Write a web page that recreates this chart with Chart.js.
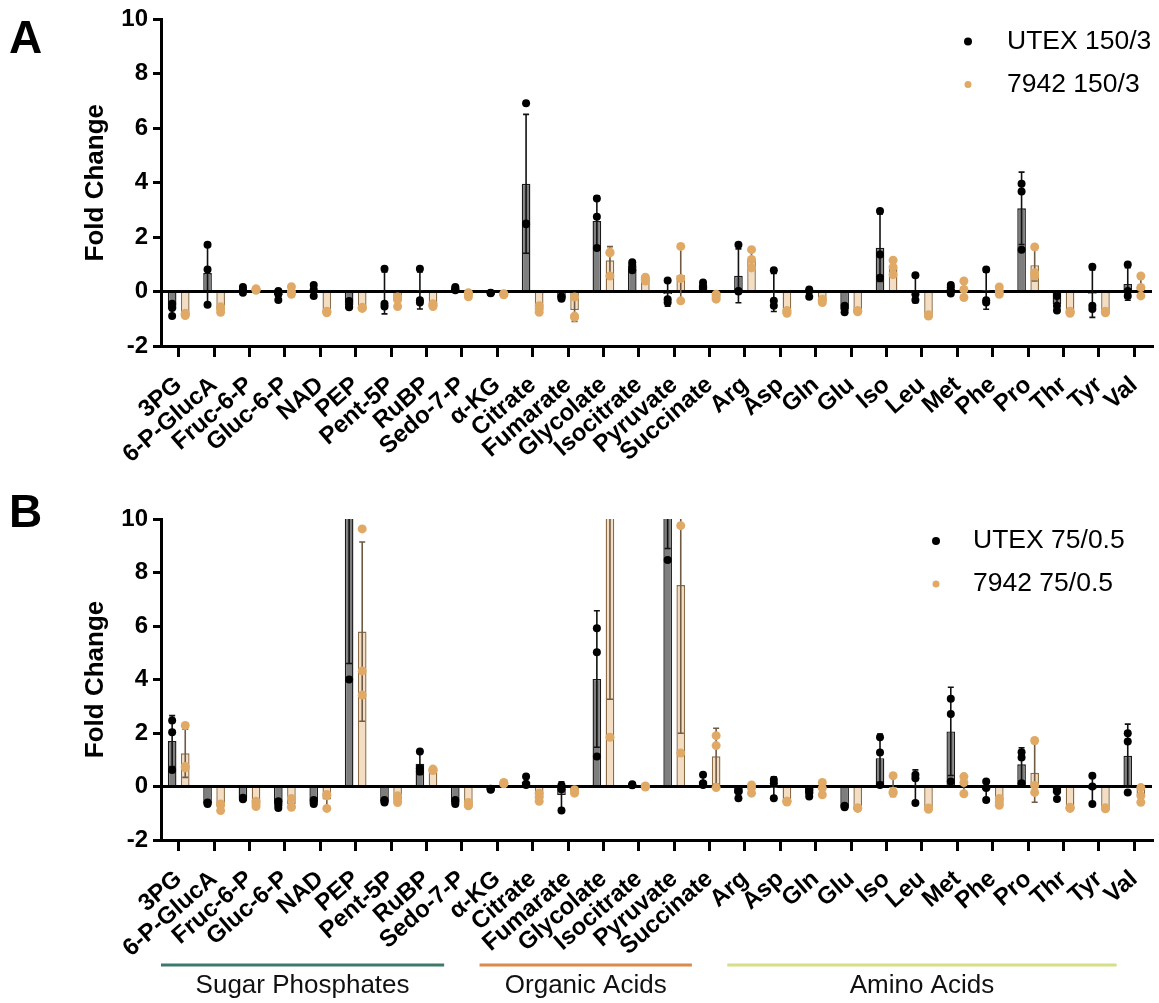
<!DOCTYPE html>
<html>
<head>
<meta charset="utf-8">
<script src="https://cdn.jsdelivr.net/npm/chart.js@4.4.1/dist/chart.umd.min.js"></script>
<style>
  body { margin: 0; background: #fff; }
  #wrap { position: relative; width: 1159px; height: 1003px; font-family: 'Liberation Sans', Arial, sans-serif; }
  .panel { position: absolute; left: 0; width: 1159px; }
  .letter { position: absolute; left: 9px; font-weight: bold; font-size: 46px; line-height: 1; }
</style>
</head>
<body>
<div id="wrap">
  <div class="panel" style="top:0;height:480px"><canvas id="chartA"></canvas></div>
  <div class="panel" style="top:480px;height:523px"><canvas id="chartB"></canvas></div>
  <div class="letter" style="top:14px">A</div>
  <div class="letter" style="top:488px">B</div>
</div>
<script>
// metabolites on the x axis
const metabolites = ['3PG', '6-P-GlucA', 'Fruc-6-P', 'Gluc-6-P', 'NAD', 'PEP', 'Pent-5P', 'RuBP', 'Sedo-7-P',
  'α-KG', 'Citrate', 'Fumarate', 'Glycolate', 'Isocitrate', 'Pyruvate', 'Succinate',
  'Arg', 'Asp', 'Gln', 'Glu', 'Iso', 'Leu', 'Met', 'Phe', 'Pro', 'Thr', 'Tyr', 'Val'];
const yTicks = [-2, 0, 2, 4, 6, 8, 10];

// metabolite groups (first / last index) for panel B
const groupNames = ['Sugar Phosphates', 'Organic Acids', 'Amino Acids'];
const groupStart = [0, 9, 16];
const groupEnd = [8, 15, 27];
const groupColors = ['#3d7a6c', '#d98a4c', '#d6df86'];

// panel A: 150/3
const utexA = [-0.65, 0.68, 0.07, -0.13, 0.05, -0.49, -0.05, 0.04, 0.11, -0.05, 3.96, -0.22, 2.59, 0.95,
  -0.09, 0.23, 0.58, -0.03, -0.03, -0.64, 1.61, 0.06, 0.1, 0.03, 3.06, -0.46, -0.08, 0.28];
const utexAErr = [0.23, 1.1, 0.1, 0.17, 0.2, 0.12, 0.77, 0.68, 0.06, 0.02, 2.55, 0.04, 0.92, 0.15,
  0.45, 0.09, 0.99, 0.7, 0.14, 0.12, 1.24, 0.47, 0.16, 0.68, 1.33, 0.27, 0.87, 0.6];
const utexAPts = [[-0.45, -0.6, -0.9], [1.72, 0.81, -0.48], [0.17, 0.08, -0.04], [0.02, -0.1, -0.31],
  [0.24, 0.08, -0.16], [-0.35, -0.55, -0.58], [0.84, -0.45, -0.55], [0.84, -0.32, -0.4], [0.17, 0.12, 0.05],
  [-0.04, -0.05, -0.06], [6.92, 2.47, 2.5], [-0.18, -0.22, -0.26], [3.42, 2.75, 1.6], [1.08, 0.98, 0.78],
  [0.41, -0.28, -0.4], [0.33, 0.2, 0.15], [1.72, 0.02, 0.0], [0.78, -0.34, -0.52], [0.08, 0.02, -0.19],
  [-0.52, -0.64, -0.76], [2.96, 1.36, 0.51], [0.6, -0.1, -0.31], [0.24, 0.15, -0.07], [0.81, -0.32, -0.4],
  [3.96, 3.68, 1.54], [-0.16, -0.52, -0.7], [0.91, -0.52, -0.64], [0.99, 0.02, -0.16]];

const s7942A = [-0.85, -0.65, 0.08, 0.03, -0.75, -0.6, -0.35, -0.5, -0.11, -0.1, -0.64, -0.68, 1.15, 0.45,
  0.6, -0.19, 1.2, -0.75, -0.33, -0.72, 0.89, -0.88, 0.08, 0.03, 0.97, -0.76, -0.75, 0.19];
const s7942AErr = [0.04, 0.1, 0.03, 0.14, 0.03, 0.02, 0.18, 0.05, 0.07, 0.02, 0.12, 0.42, 0.5, 0.07,
  1.0, 0.09, 0.34, 0.05, 0.06, 0.02, 0.27, 0.02, 0.3, 0.14, 0.58, 0.04, 0.03, 0.37];
const s7942APts = [[-0.8, -0.85, -0.88], [-0.56, -0.64, -0.76], [0.05, 0.08, 0.1], [0.18, 0.0, -0.1],
  [-0.72, -0.75, -0.78], [-0.58, -0.6, -0.62], [-0.2, -0.3, -0.55], [-0.45, -0.5, -0.55], [-0.04, -0.1, -0.19],
  [-0.08, -0.1, -0.12], [-0.52, -0.64, -0.76], [-0.2, -0.9, -0.95], [1.45, 1.42, 0.57], [0.53, 0.45, 0.39],
  [1.66, 0.48, -0.34], [-0.1, -0.2, -0.28], [1.54, 1.18, 0.87], [-0.7, -0.75, -0.8], [-0.28, -0.33, -0.4],
  [-0.7, -0.72, -0.74], [1.15, 0.9, 0.62], [-0.85, -0.88, -0.9], [0.39, 0.08, -0.22], [0.17, 0.02, -0.1],
  [1.64, 0.69, 0.57], [-0.72, -0.76, -0.8], [-0.72, -0.75, -0.78], [0.57, 0.15, -0.16]];

// panel B: 75/0.5
const utexB = [1.7, -0.62, -0.45, -0.68, -0.58, 13.3, -0.55, 0.85, -0.58, -0.1, 0.18, -0.32, 4.02, 0.06,
  12.0, 0.2, -0.26, -0.02, -0.25, -0.75, 1.06, 0.04, 2.06, -0.12, 0.83, -0.25, -0.08, 1.15];
const utexBErr = [0.95, 0.03, 0.03, 0.13, 0.08, 8.7, 0.05, 0.4, 0.08, 0.02, 0.17, 0.5, 2.55, 0.02,
  3.1, 0.2, 0.15, 0.38, 0.12, 0.03, 0.9, 0.58, 1.65, 0.35, 0.62, 0.2, 0.53, 1.18];
const utexBPts = [[2.47, 2.03, 0.62], [-0.6, -0.62, -0.65], [-0.42, -0.45, -0.48], [-0.55, -0.7, -0.8],
  [-0.5, -0.6, -0.65], [4.0, 14, 22], [-0.5, -0.55, -0.6], [1.31, 0.68, 0.56], [-0.5, -0.6, -0.65],
  [-0.08, -0.1, -0.12], [0.37, 0.1, 0.06], [0.05, -0.1, -0.9], [5.92, 5.02, 1.12], [0.08, 0.06, 0.05],
  [8.47, 12.5, 15], [0.44, 0.12, 0.06], [-0.15, -0.2, -0.44], [0.25, 0.12, -0.44], [-0.12, -0.25, -0.37],
  [-0.72, -0.75, -0.78], [1.84, 1.27, 0.06], [0.44, 0.31, -0.62], [3.28, 2.71, 0.19], [0.19, -0.06, -0.5],
  [1.28, 1.08, 0.12], [-0.09, -0.19, -0.47], [0.4, 0.0, -0.65], [1.99, 1.68, -0.22]];

const s7942B = [1.24, -0.75, -0.65, -0.66, -0.49, 5.79, -0.48, 0.62, -0.67, 0.12, -0.4, -0.18, 14.0, 0.0,
  7.53, 1.13, -0.08, -0.56, -0.07, -0.81, -0.01, -0.82, 0.08, -0.58, 0.51, -0.8, -0.81, -0.33];
const s7942BErr = [0.9, 0.13, 0.1, 0.18, 0.28, 3.35, 0.13, 0.03, 0.06, 0.03, 0.15, 0.07, 10.74, 0.02,
  5.54, 1.05, 0.16, 0.02, 0.23, 0.02, 0.36, 0.03, 0.32, 0.13, 1.1, 0.02, 0.02, 0.28];
const s7942BPts = [[2.28, 0.75, 0.7], [-0.65, -0.7, -0.9], [-0.55, -0.65, -0.75], [-0.45, -0.75, -0.78],
  [-0.3, -0.35, -0.82], [9.63, 4.32, 3.42], [-0.35, -0.5, -0.6], [0.6, 0.62, 0.65], [-0.6, -0.7, -0.72],
  [0.1, 0.12, 0.15], [-0.25, -0.4, -0.55], [-0.12, -0.18, -0.25], [1.84, 14, 26], [0.02, 0.0, -0.02],
  [9.75, 1.25, 11.6], [1.9, 1.53, -0.04], [0.06, -0.06, -0.25], [-0.55, -0.55, -0.58], [0.15, -0.06, -0.31],
  [-0.8, -0.8, -0.82], [0.4, -0.19, -0.25], [-0.8, -0.82, -0.85], [0.37, 0.15, -0.27], [-0.45, -0.6, -0.7],
  [1.72, 0.04, -0.22], [-0.78, -0.8, -0.82], [-0.8, -0.8, -0.83], [-0.04, -0.35, -0.59]];

const FONT = "'Liberation Sans', Arial, sans-serif";
Chart.defaults.font.family = FONT;
Chart.defaults.color = '#000';

// error bars + replicate dots, drawn on top of each bar
const errorDots = {
  id: 'errorDots',
  afterDatasetsDraw(chart) {
    const { ctx, chartArea, scales: { y } } = chart;
    ctx.save();
    ctx.beginPath();
    ctx.rect(chartArea.left, chartArea.top, chartArea.width, chartArea.height);
    ctx.clip();
    chart.data.datasets.forEach((ds, i) => {
      const meta = chart.getDatasetMeta(i);
      meta.data.forEach((bar, j) => {
        const m = ds.data[j], e = ds.err[j];
        const yTop = y.getPixelForValue(m + e), yBot = y.getPixelForValue(m - e);
        ctx.strokeStyle = ds.errColor;
        ctx.lineWidth = 1.6;
        ctx.beginPath();
        ctx.moveTo(bar.x, yTop); ctx.lineTo(bar.x, yBot);
        ctx.moveTo(bar.x - 3, yTop); ctx.lineTo(bar.x + 3, yTop);
        ctx.moveTo(bar.x - 3, yBot); ctx.lineTo(bar.x + 3, yBot);
        ctx.stroke();
        ctx.fillStyle = ds.dotColor;
        ds.points[j].forEach(v => {
          ctx.beginPath();
          ctx.arc(bar.x, y.getPixelForValue(v), ds.dotRadius, 0, Math.PI * 2);
          ctx.fill();
        });
      });
    });
    ctx.restore();
  }
};

// legend in the top right corner of the plot
const dotLegend = {
  id: 'dotLegend',
  afterDraw(chart, args, opts) {
    const { ctx, chartArea } = chart;
    ctx.save();
    ctx.font = '26.5px ' + FONT;
    ctx.textBaseline = 'middle';
    chart.data.datasets.forEach((ds, i) => {
      const yy = chartArea.top + 22 + i * 43;
      ctx.fillStyle = ds.dotColor;
      ctx.beginPath();
      ctx.arc(chartArea.right - opts.dotOffset, yy, i === 0 ? 4 : 3.5, 0, Math.PI * 2);
      ctx.fill();
      ctx.fillStyle = '#000';
      ctx.fillText(ds.label, chartArea.right - opts.textOffset, yy);
    });
    ctx.restore();
  }
};

// coloured group brackets under panel B
const groupBars = {
  id: 'groupBars',
  afterDraw(chart, args, opts) {
    if (!opts.show) return;
    const { ctx, chartArea, scales: { x } } = chart;
    const half = (x.getPixelForValue(1) - x.getPixelForValue(0)) / 2;
    ctx.save();
    ctx.font = '26px ' + FONT;
    ctx.textAlign = 'center';
    ctx.textBaseline = 'middle';
    groupNames.forEach((name, g) => {
      const x0 = x.getPixelForValue(groupStart[g]) - half;
      const x1 = x.getPixelForValue(groupEnd[g]) - half;
      const yy = chartArea.bottom + 125;
      ctx.strokeStyle = groupColors[g];
      ctx.lineWidth = 3;
      ctx.beginPath(); ctx.moveTo(x0, yy); ctx.lineTo(x1, yy); ctx.stroke();
      ctx.fillStyle = '#111';
      ctx.fillText(name, (x0 + x1) / 2, yy + 21);
    });
    ctx.restore();
  }
};

function makeChart(id, labels, utex, utexErr, utexPts, s7942, s7942Err, s7942Pts, cfg) {
  return new Chart(document.getElementById(id), {
    type: 'bar',
    data: {
      labels: metabolites,
      datasets: [
        { label: labels[0], data: utex, err: utexErr, points: utexPts,
          backgroundColor: '#7e7e7e', borderColor: '#1a1a1a', borderWidth: 1.4,
          errColor: '#111', dotColor: '#000', dotRadius: 4 },
        { label: labels[1], data: s7942, err: s7942Err, points: s7942Pts,
          backgroundColor: '#f4dec3', borderColor: '#8a6c48', borderWidth: 1.4,
          errColor: '#6f5a44', dotColor: '#e0aa66', dotRadius: 4.5 }
      ]
    },
    options: {
      responsive: true,
      maintainAspectRatio: false,
      animation: false,
      categoryPercentage: 0.74,
      barPercentage: 0.66,
      layout: { padding: { left: 78, right: 7, top: cfg.top, bottom: 0 } },
      plugins: {
        legend: { display: false },
        tooltip: { enabled: false },
        dotLegend: { dotOffset: cfg.dotOffset, textOffset: cfg.textOffset },
        groupBars: { show: cfg.groups }
      },
      scales: {
        x: {
          offset: true,
          border: { display: true, color: '#000', width: 3 },
          grid: { display: true, drawOnChartArea: false, offset: false, color: '#000', lineWidth: 3, tickLength: 11 },
          ticks: { autoSkip: false, minRotation: 41, maxRotation: 41, padding: 14,
            font: { size: 24, weight: 'bold' }, color: '#000' },
          afterFit(scale) {
            scale.height = cfg.xHeight;
            scale.paddingLeft = 0;
            scale.paddingRight = 0;
          }
        },
        y: {
          min: -2, max: 10,
          afterBuildTicks(scale) { scale.ticks = yTicks.map(v => ({ value: v })); },
          border: { display: true, color: '#000', width: 3 },
          grid: { drawOnChartArea: true, color: c => (c.tick && c.tick.value === 0 ? '#000' : 'rgba(0,0,0,0)'),
            tickColor: '#000', lineWidth: 3, tickLength: 8 },
          ticks: { padding: 5, font: { size: 24, weight: 'bold' }, color: '#000' },
          title: { display: true, text: 'Fold Change', font: { size: 26, weight: 'bold' }, color: '#000', padding: { top: 2, bottom: 0 } },
          afterFit(scale) { scale.width = 83; }
        }
      }
    },
    plugins: [errorDots, dotLegend, groupBars]
  });
}

makeChart('chartA', ['UTEX 150/3', '7942 150/3'], utexA, utexAErr, utexAPts, s7942A, s7942AErr, s7942APts,
  { top: 16, xHeight: 134, dotOffset: 184, textOffset: 145, groups: false });
makeChart('chartB', ['UTEX 75/0.5', '7942 75/0.5'], utexB, utexBErr, utexBPts, s7942B, s7942BErr, s7942BPts,
  { top: 39, xHeight: 163, dotOffset: 216, textOffset: 179, groups: true });
</script>
</body>
</html>
